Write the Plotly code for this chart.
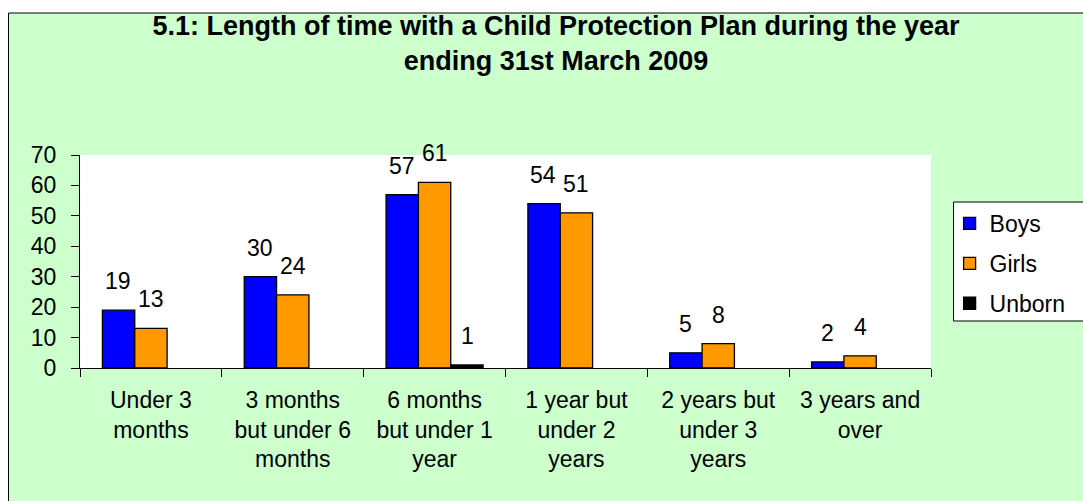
import plotly.graph_objects as go

categories = ["Under 3<br>months", "3 months<br>but under 6<br>months", "6 months<br>but under 1<br>year",
              "1 year but<br>under 2<br>years", "2 years but<br>under 3<br>years", "3 years and<br>over"]
boys = [19, 30, 57, 54, 5, 2]
girls = [13, 24, 61, 51, 8, 4]
unborn = [None, None, 1, None, None, None]
series_names = ["Boys", "Girls", "Unborn"]
series_values = [boys, girls, unborn]
series_colors = ["#0000FF", "#FF9900", "#000000"]
title_text = "<b>5.1: Length of time with a Child Protection Plan during the year<br>ending 31st March 2009</b>"

W, H = 1083, 501
ML, MR, MT, MB = 80, 134, 155, 133
FONT = "Arial, Liberation Sans, sans-serif"
BAR_PX = 33.0

fig = go.Figure()
for i, (name, vals, col) in enumerate(zip(series_names, series_values, series_colors)):
    fig.add_trace(go.Bar(
        x=categories, y=vals, name=name, legendgroup=name,
        marker=dict(color=col, line=dict(color="#000000", width=1.3)),
    ))

annotations = []
for i, vals in enumerate(series_values):
    for c, v in zip(categories, vals):
        if v is None:
            continue
        annotations.append(dict(
            x=c, y=v, xref="x", yref="y", text=str(v), showarrow=False,
            xanchor="center", yanchor="bottom", xshift=(i - 1) * BAR_PX, yshift=14,
            font=dict(family=FONT, size=23, color="#000000"),
        ))

pw = W - ML - MR
ph = H - MT - MB
def px_x(p):
    return (p - ML) / pw
def px_y(p):
    return (H - MB - p) / ph

shapes = [
    dict(type="rect", xref="paper", yref="paper", layer="below",
         x0=px_x(7), x1=1.3, y0=-1.0, y1=px_y(13),
         fillcolor="#CCFFCC", line=dict(color="#000000", width=1)),
    dict(type="rect", xref="paper", yref="paper", layer="below",
         x0=0, x1=1, y0=0, y1=1, fillcolor="#FFFFFF", line=dict(width=0)),
    dict(type="rect", xref="paper", yref="paper", layer="below",
         x0=px_x(972), x1=px_x(1120), y0=px_y(321), y1=px_y(202),
         fillcolor="#FFFFFF", line=dict(color="#000000", width=1)),
]

fig.update_layout(
    width=W, height=H,
    margin=dict(l=ML, r=MR, t=MT, b=MB, pad=0),
    paper_bgcolor="#FFFFFF", plot_bgcolor="#FFFFFF",
    barmode="group", bargap=0.316, bargroupgap=0,
    font=dict(family=FONT, size=23, color="#000000"),
    title=dict(text=title_text, x=556 / W, xanchor="center", xref="container",
               y=1 - 35 / H, yanchor="top", yref="container",
               font=dict(family=FONT, size=27, color="#000000")),
    xaxis=dict(type="category", tickson="boundaries", ticks="outside", ticklen=8,
               tickcolor="#000000", showline=True, linecolor="#000000", linewidth=1,
               showgrid=False, ticklabelstandoff=11,
               tickfont=dict(family=FONT, size=23, color="#000000")),
    yaxis=dict(range=[0, 70], dtick=10, ticks="outside", ticklen=8, tickcolor="#000000",
               showline=True, linecolor="#000000", linewidth=1, showgrid=False,
               zeroline=False, ticklabelstandoff=10,
               tickfont=dict(family=FONT, size=23, color="#000000")),
    legend=dict(x=px_x(968), xanchor="left", y=px_y(202), yanchor="top",
                bgcolor="rgba(0,0,0,0)", borderwidth=0,
                tracegroupgap=7, font=dict(family=FONT, size=23, color="#000000")),
    annotations=annotations,
    shapes=shapes,
    showlegend=True,
)

fig.write_html("out.html", config={"displayModeBar": False},
               post_script="document.body.style.margin='0px';document.body.style.overflow='hidden';")
